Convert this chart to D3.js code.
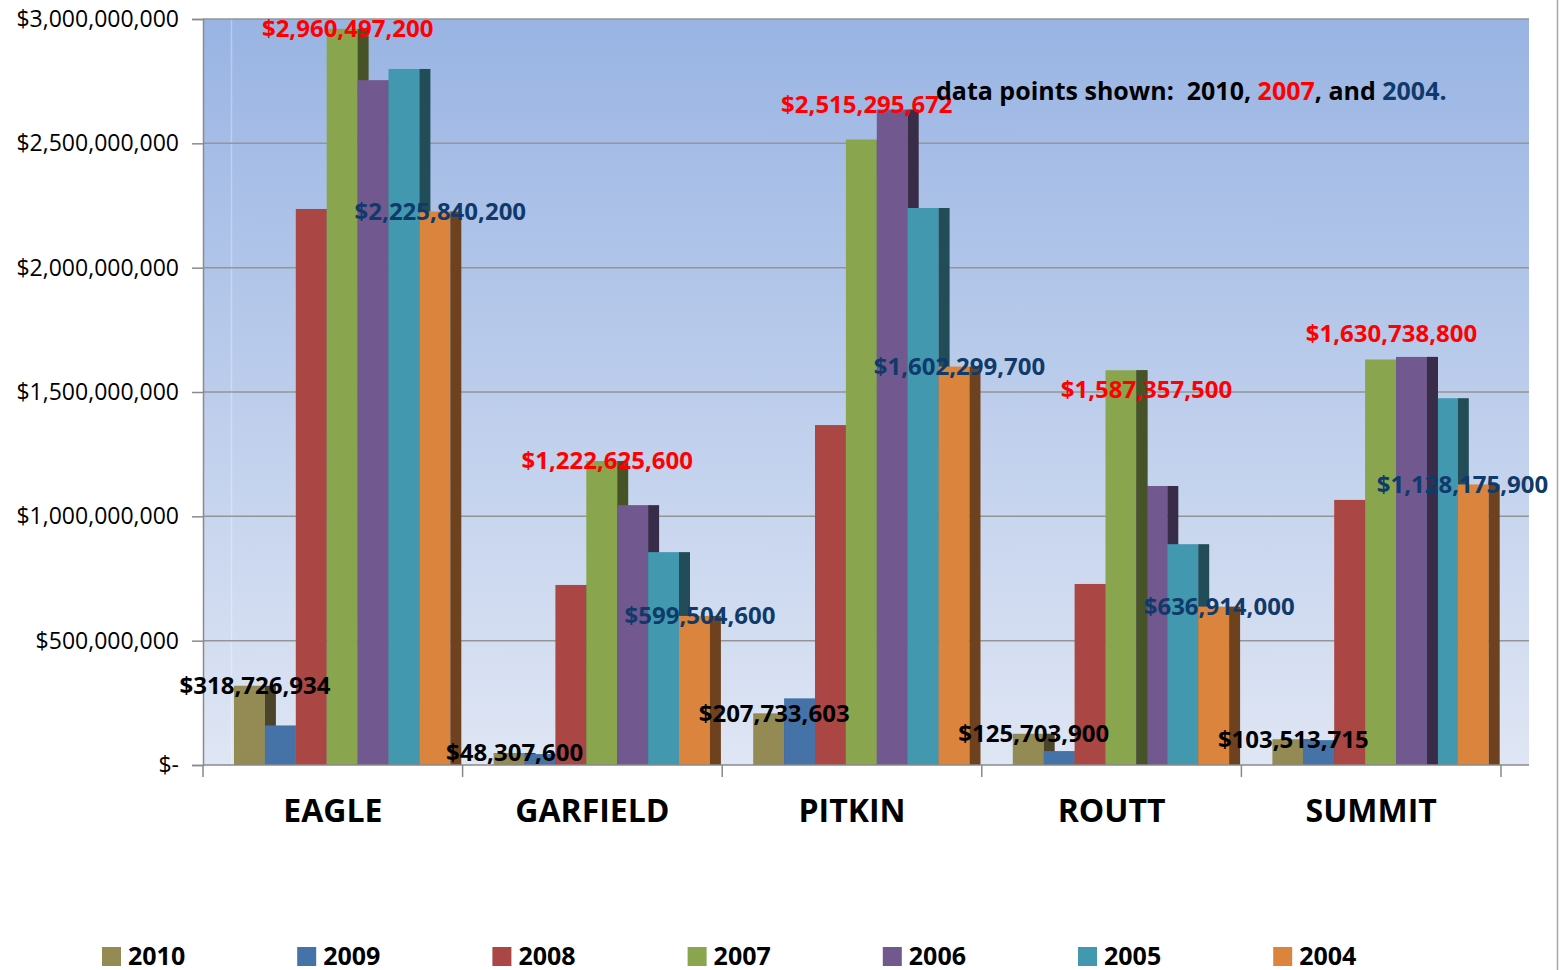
<!DOCTYPE html>
<html>
<head>
<meta charset="utf-8">
<script src="https://cdn.jsdelivr.net/npm/d3@7"></script>
<style>
  html, body { margin: 0; padding: 0; background: #fff; }
  svg { display: block; font-family: "Open Sans", "DejaVu Sans", sans-serif; }
</style>
</head>
<body>
<svg id="chart" width="1568" height="970"></svg>
<script>
// county values by year (assessed value, dollars)
const counties = ['EAGLE', 'GARFIELD', 'PITKIN', 'ROUTT', 'SUMMIT'];
const years = ['2010', '2009', '2008', '2007', '2006', '2005', '2004'];
const v2010 = [318726934, 48307600, 207733603, 125703900, 103513715];
const v2009 = [159000000, 44000000, 268000000, 56000000, 100000000];
const v2008 = [2236000000, 724000000, 1367000000, 728000000, 1066000000];
const v2007 = [2960497200, 1222625600, 2515295672, 1587357500, 1630738800];
const v2006 = [2754000000, 1045000000, 2636000000, 1122000000, 1641000000];
const v2005 = [2799000000, 856000000, 2240000000, 888000000, 1475000000];
const v2004 = [2225840200, 599504600, 1602299700, 636914000, 1128175900];
const yTicks = [0, 500000000, 1000000000, 1500000000, 2000000000, 2500000000, 3000000000];
const labelled = { '2010': '#000000', '2007': '#ff0000', '2004': '#0f3a6a' };
// bars whose side face is painted over the next bar (Excel 3D draw order)
const sideOnTop = [['ROUTT', '2007'], ['SUMMIT', '2006']];
// labels that were dragged away from their bar top in the original
const labelNudge = { 'PITKIN 2007': [0, -35.5], 'ROUTT 2007': [20, 18.8], 'SUMMIT 2007': [5.5, -26.2], 'SUMMIT 2004': [-16.3, 0] };

const colors = {
  '2010': '#948a54', '2009': '#4572a7', '2008': '#aa4643', '2007': '#89a54e',
  '2006': '#71588f', '2005': '#4198af', '2004': '#db843d'
};
const values = { '2010': v2010, '2009': v2009, '2008': v2008, '2007': v2007, '2006': v2006, '2005': v2005, '2004': v2004 };

const plot = { left: 203, right: 1529, top: 19, bottom: 765, catEnd: 1501 };
const sideW = 11;

const svg = d3.select('#chart');
const x = d3.scaleBand().domain(counties).range([plot.left, plot.catEnd]);
const xs = d3.scaleBand().domain(years).range([31, 31 + 7 * 30.9]);
const y = d3.scaleLinear().domain([0, 3000000000]).range([plot.bottom, plot.top]);

function darker(c) {
  const r = d3.rgb(c);
  return d3.rgb(r.r * 0.5, r.g * 0.5, r.b * 0.5).formatHex();
}

// plot background gradient
const defs = svg.append('defs');
const grad = defs.append('linearGradient').attr('id', 'bg').attr('x1', 0).attr('x2', 0).attr('y1', 0).attr('y2', 1);
grad.append('stop').attr('offset', '0%').attr('stop-color', '#99b4e3');
grad.append('stop').attr('offset', '100%').attr('stop-color', '#dfe6f4');
svg.append('rect')
  .attr('x', plot.left).attr('y', plot.top)
  .attr('width', plot.right - plot.left).attr('height', plot.bottom - plot.top)
  .attr('fill', 'url(#bg)');

svg.append('line')
  .attr('x1', plot.left + 28.5).attr('x2', plot.left + 28.5)
  .attr('y1', plot.top).attr('y2', plot.bottom)
  .attr('stroke', '#fff').attr('stroke-opacity', 0.3).attr('stroke-width', 1.5);

// gridlines
svg.append('g').selectAll('line')
  .data(yTicks.filter((d) => d > 0))
  .join('line')
  .attr('x1', plot.left).attr('x2', plot.right)
  .attr('y1', (d) => y(d)).attr('y2', (d) => y(d))
  .attr('stroke', '#959595').attr('stroke-width', 1.5);

// y axis
const yAxis = d3.axisLeft(y)
  .tickValues(yTicks)
  .tickSize(11)
  .tickPadding(13)
  .tickFormat((d) => d === 0 ? '$-' : d3.format('$,')(d));
const yg = svg.append('g').attr('transform', `translate(${plot.left},0)`).call(yAxis);
yg.select('.domain').attr('stroke', '#8a8a8a').attr('stroke-width', 1.5);
yg.selectAll('.tick line').attr('stroke', '#8a8a8a').attr('stroke-width', 1.5);
yg.selectAll('.tick text').attr('font-size', 23).attr('fill', '#000').attr('font-family', '"Open Sans", sans-serif');

// bars
const barsG = svg.append('g');
const barData = [];
counties.forEach((c, ci) => {
  years.forEach((yr) => {
    barData.push({ county: c, year: yr, value: values[yr][ci] });
  });
});
function bx(d) { return x(d.county) + xs(d.year); }

barData.forEach((d) => {
  const g = barsG.append('g');
  g.append('rect')
    .attr('x', bx(d)).attr('y', y(d.value))
    .attr('width', xs.bandwidth()).attr('height', y(0) - y(d.value))
    .attr('fill', colors[d.year]);
  g.append('rect')
    .attr('x', bx(d) + xs.bandwidth()).attr('y', y(d.value))
    .attr('width', sideW).attr('height', y(0) - y(d.value))
    .attr('fill', darker(colors[d.year]));
});
sideOnTop.forEach(([c, yr]) => {
  const d = barData.find((b) => b.county === c && b.year === yr);
  barsG.append('rect')
    .attr('x', bx(d) + xs.bandwidth()).attr('y', y(d.value))
    .attr('width', sideW).attr('height', y(0) - y(d.value))
    .attr('fill', darker(colors[d.year]));
});

// x axis
svg.append('line')
  .attr('x1', plot.left).attr('x2', plot.right)
  .attr('y1', plot.bottom).attr('y2', plot.bottom)
  .attr('stroke', '#8a8a8a').attr('stroke-width', 1.5);
const bounds = counties.map((c) => x(c)).concat([x(counties[counties.length - 1]) + x.bandwidth()]);
svg.append('g').selectAll('line')
  .data(bounds)
  .join('line')
  .attr('x1', (d) => d).attr('x2', (d) => d)
  .attr('y1', plot.bottom).attr('y2', plot.bottom + 12)
  .attr('stroke', '#8a8a8a').attr('stroke-width', 1.5);
svg.append('g').selectAll('text')
  .data(counties)
  .join('text')
  .attr('x', (d) => x(d) + x.bandwidth() / 2)
  .attr('y', 822)
  .attr('text-anchor', 'middle')
  .attr('font-size', 32).attr('font-weight', 'bold')
  .text((d) => d);

// data labels
const labelG = svg.append('g');
barData.filter((d) => labelled[d.year]).forEach((d) => {
  const [nx, ny] = labelNudge[`${d.county} ${d.year}`] || [0, 0];
  labelG.append('text')
    .attr('x', bx(d) + xs.bandwidth() / 2 + sideW / 2 + nx)
    .attr('y', y(d.value) + 8.5 + ny)
    .attr('text-anchor', 'middle')
    .attr('font-size', 24).attr('font-weight', 'bold')
    .attr('fill', labelled[d.year])
    .text(d3.format('$,')(d.value));
});

// note
const note = svg.append('text')
  .attr('x', 936).attr('y', 100)
  .attr('font-size', 25).attr('font-weight', 'bold')
  .attr('xml:space', 'preserve')
  .style('white-space', 'pre');
note.append('tspan').text('data points shown:  2010, ');
note.append('tspan').attr('fill', labelled['2007']).text('2007');
note.append('tspan').text(', and ');
note.append('tspan').attr('fill', labelled['2004']).text('2004.');

// legend
const legend = svg.append('g').selectAll('g')
  .data(years)
  .join('g')
  .attr('transform', (d, i) => `translate(${102 + i * 195.2},947)`);
legend.append('rect').attr('width', 19).attr('height', 19).attr('fill', (d) => colors[d]);
legend.append('text')
  .attr('x', 26).attr('y', 17.5)
  .attr('font-size', 25).attr('font-weight', 'bold')
  .text((d) => d);

// chart area border on the right
svg.append('line')
  .attr('x1', 1557.5).attr('x2', 1557.5).attr('y1', 0).attr('y2', 970)
  .attr('stroke', '#a6a6a6').attr('stroke-width', 1.5);
</script>
</body>
</html>
